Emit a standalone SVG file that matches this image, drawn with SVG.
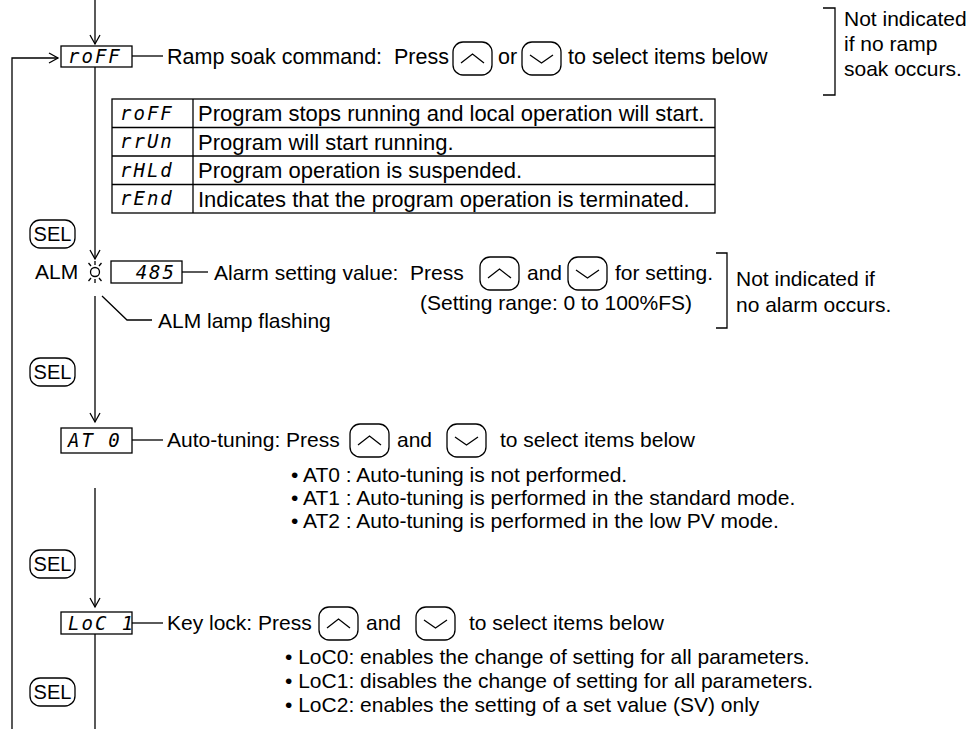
<svg xmlns="http://www.w3.org/2000/svg" xmlns:xlink="http://www.w3.org/1999/xlink" width="973" height="729" viewBox="0 0 973 729">
<style>
.t{font-family:"Liberation Sans",Arial,sans-serif;font-size:21px;fill:#000}
.t1{font-family:"Liberation Sans",Arial,sans-serif;font-size:21.5px;fill:#000}
.tb{font-family:"Liberation Sans",Arial,sans-serif;font-size:22px;fill:#000}
.s{font-family:"Liberation Sans",Arial,sans-serif;font-size:20px;fill:#000}
.seg{font-family:"DejaVu Sans Mono",monospace;font-style:italic;font-size:19px;fill:#000;letter-spacing:2px}
.ln{stroke:#000;stroke-width:1.3;fill:none}
.box{fill:#fff;stroke:#000;stroke-width:1.3}
.btn{fill:#fff;stroke:#000;stroke-width:1.3}
</style>
<defs>
<marker id="ah" markerWidth="12" markerHeight="12" refX="10" refY="6" orient="auto" markerUnits="userSpaceOnUse"><path d="M1,1 L10,6 L1,11" fill="none" stroke="#000" stroke-width="1.3"/></marker>
<g id="up"><rect class="btn" x="0" y="0" width="39" height="33" rx="10"/><polyline class="ln" points="8,21 19.5,12 31,21"/></g>
<g id="dn"><rect class="btn" x="0" y="0" width="39" height="33" rx="10"/><polyline class="ln" points="8,13 19.5,21 31,13"/></g>
<g id="sel"><rect class="btn" x="0" y="0" width="45" height="28" rx="10"/><text class="s" x="22.5" y="21" text-anchor="middle">SEL</text></g>
</defs>
<rect width="973" height="729" fill="#fff"/>

<g id="connectors">
<line class="ln" x1="95" y1="0" x2="95" y2="44" marker-end="url(#ah)"/>
<path class="ln" d="M12,729 V58 H58" marker-end="url(#ah)"/>
<line class="ln" x1="95" y1="67" x2="95" y2="259" marker-end="url(#ah)"/>
<line class="ln" x1="95" y1="296" x2="95" y2="422" marker-end="url(#ah)"/>
<line class="ln" x1="95" y1="488" x2="95" y2="607" marker-end="url(#ah)"/>
<line class="ln" x1="95" y1="634" x2="95" y2="729"/>
<line class="ln" x1="132" y1="56" x2="163" y2="56"/>
<line class="ln" x1="182" y1="272" x2="208" y2="272"/>
<polyline class="ln" points="102,296 127,320 152,320"/>
<line class="ln" x1="132" y1="440" x2="163" y2="440"/>
<line class="ln" x1="132" y1="623" x2="163" y2="623"/>
</g>

<g id="node-roff">
<rect class="box" x="61" y="46" width="71" height="21"/>
<text class="seg" x="68" y="63">roFF</text>
<text class="t1" x="167" y="64" xml:space="preserve">Ramp soak command:  Press</text>
<use xlink:href="#up" x="453" y="42"/>
<text class="t1" x="498" y="64">or</text>
<use xlink:href="#dn" x="522" y="42"/>
<text class="t1" x="568" y="64">to select items below</text>
</g>

<g id="note-ramp">
<polyline class="ln" points="823,8 835,8 835,95 823,95"/>
<text class="t" x="844" y="26">Not indicated</text>
<text class="t" x="844" y="51">if no ramp</text>
<text class="t" x="844" y="76">soak occurs.</text>
</g>

<g id="table">
<rect class="box" x="112" y="99" width="603" height="114"/>
<line class="ln" x1="193" y1="99" x2="193" y2="213"/>
<line class="ln" x1="112" y1="127.5" x2="715" y2="127.5"/>
<line class="ln" x1="112" y1="156" x2="715" y2="156"/>
<line class="ln" x1="112" y1="184.5" x2="715" y2="184.5"/>
<text class="seg" x="120" y="120">roFF</text>
<text class="seg" x="120" y="148">rrUn</text>
<text class="seg" x="120" y="177">rHLd</text>
<text class="seg" x="120" y="205">rEnd</text>
<text class="tb" x="198" y="121">Program stops running and local operation will start.</text>
<text class="tb" x="198" y="149.5">Program will start running.</text>
<text class="tb" x="198" y="178">Program operation is suspended.</text>
<text class="tb" x="198" y="206.5">Indicates that the program operation is terminated.</text>
</g>

<g id="sel-1"><use xlink:href="#sel" x="30" y="220"/></g>

<g id="node-alm">
<text class="t" x="35" y="279">ALM</text>
<circle class="ln" cx="95" cy="272" r="4.5"/>
<path class="ln" d="M95,265 V261 M91,266 L88.5,263 M99,266 L101.5,263 M95,279 V283 M91,278 L88.5,281 M99,278 L101.5,281"/>
<rect class="box" x="111" y="261" width="71" height="22"/>
<text class="seg" x="176" y="279" text-anchor="end">485</text>
<text class="t" x="214" y="280" xml:space="preserve">Alarm setting value:  Press</text>
<use xlink:href="#up" x="480" y="257"/>
<text class="t" x="527" y="280">and</text>
<use xlink:href="#dn" x="568" y="257"/>
<text class="t" x="615" y="280">for setting.</text>
<text class="t" x="420" y="310">(Setting range: 0 to 100%FS)</text>
<text class="t" x="158" y="328">ALM lamp flashing</text>
</g>

<g id="note-alarm">
<polyline class="ln" points="716,253 727,253 727,328 716,328"/>
<text class="t" x="736" y="286">Not indicated if</text>
<text class="t" x="736" y="312">no alarm occurs.</text>
</g>

<g id="sel-2"><use xlink:href="#sel" x="30" y="358"/></g>

<g id="node-at">
<rect class="box" x="61" y="428" width="71" height="25"/>
<text class="seg" x="68" y="447">AT 0</text>
<text class="t" x="167" y="447">Auto-tuning: Press</text>
<use xlink:href="#up" x="350" y="424"/>
<text class="t" x="397" y="447">and</text>
<use xlink:href="#dn" x="447" y="424"/>
<text class="t" x="500" y="447">to select items below</text>
<text class="t" x="291" y="482">• AT0 : Auto-tuning is not performed.</text>
<text class="t" x="291" y="505">• AT1 : Auto-tuning is performed in the standard mode.</text>
<text class="t" x="291" y="528">• AT2 : Auto-tuning is performed in the low PV mode.</text>
</g>

<g id="sel-3"><use xlink:href="#sel" x="30" y="550"/></g>

<g id="node-loc">
<rect class="box" x="61" y="612" width="71" height="22"/>
<text class="seg" x="68" y="630">LoC 1</text>
<text class="t" x="167" y="630">Key lock: Press</text>
<use xlink:href="#up" x="319" y="607"/>
<text class="t" x="366" y="630">and</text>
<use xlink:href="#dn" x="416" y="607"/>
<text class="t" x="469" y="630">to select items below</text>
<text class="t" x="285" y="664">• LoC0: enables the change of setting for all parameters.</text>
<text class="t" x="285" y="688">• LoC1: disables the change of setting for all parameters.</text>
<text class="t" x="285" y="712">• LoC2: enables the setting of a set value (SV) only</text>
</g>

<g id="sel-4"><use xlink:href="#sel" x="30" y="678"/></g>
</svg>
